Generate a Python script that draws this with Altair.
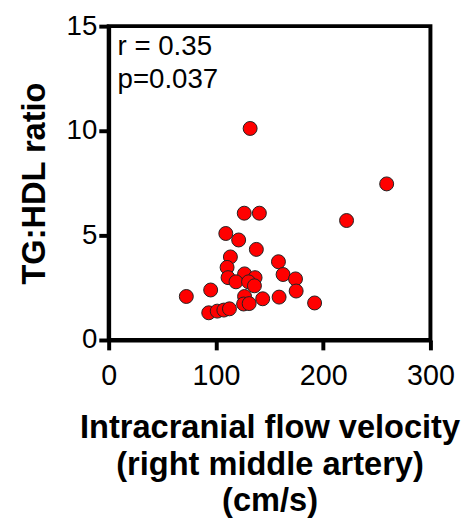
import altair as alt
import pandas as pd

velocity = [131.9, 259.2, 221.8, 126.4, 140.5, 109.2, 121.2, 137.7, 113.5, 158.3,
            110.4, 111.3, 126.7, 136.5, 162.6, 174.2, 118.7, 130.4, 135.9, 174.8,
            72.4, 95.1, 126.7, 143.6, 158.9, 192.0, 125.8, 131.0, 93.3, 101.2,
            107.4, 112.6]
ratio = [10.11, 7.46, 5.71, 6.06, 6.06, 5.09, 4.78, 4.33, 3.97, 3.74,
         3.47, 2.98, 3.16, 2.98, 3.13, 2.92, 2.78, 2.78, 2.59, 2.34,
         2.08, 2.39, 2.08, 1.97, 2.05, 1.77, 1.72, 1.74, 1.30, 1.38,
         1.43, 1.49]
x_ticks = [0, 100, 200, 300]
y_ticks = [0, 5, 10, 15]
notes = ["r = 0.35", "p=0.037"]
note_x = [8.3, 8.3]
note_y = [13.6, 12.05]

df = pd.DataFrame({"v": velocity, "r": ratio})
ndf = pd.DataFrame({"t": notes, "x": note_x, "y": note_y})

FONT = "Liberation Sans"

xs = alt.Scale(domain=[0, 300], nice=False, zero=False)
ys = alt.Scale(domain=[0, 15], nice=False, zero=False)

points = alt.Chart(df).mark_point(
    shape="circle", filled=True, size=200, color="#FF0000",
    stroke="#222222", strokeWidth=1, opacity=1
).encode(
    x=alt.X("v:Q", scale=xs, axis=alt.Axis(
        values=x_ticks,
        title=["Intracranial flow velocity", "(right middle artery)", "(cm/s)"],
        titleFontSize=33, titleFontWeight="bold", titleFont=FONT, titleColor="black",
        titleLineHeight=37, titlePadding=22,
        labelFontSize=29, labelFont=FONT, labelColor="black", labelPadding=12,
        tickSize=10, tickWidth=4, tickColor="black",
        domainWidth=4, domainColor="black", grid=False, labelFlush=False)),
    y=alt.Y("r:Q", scale=ys, axis=alt.Axis(
        values=y_ticks, title="TG:HDL ratio",
        titleFontSize=33, titleFontWeight="bold", titleFont=FONT, titleColor="black",
        titlePadding=15,
        labelFontSize=28, labelFont=FONT, labelColor="black", labelPadding=2,
        tickSize=10, tickWidth=4, tickColor="black",
        domainWidth=4, domainColor="black", grid=False, labelFlush=False)),
)

text = alt.Chart(ndf).mark_text(
    align="left", baseline="alphabetic", fontSize=28, font=FONT, color="black"
).encode(
    x=alt.X("x:Q", scale=xs),
    y=alt.Y("y:Q", scale=ys),
    text="t:N",
)

chart = alt.layer(points, text).properties(
    width=326, height=318,
    autosize=alt.AutoSizeParams(type="none"),
    padding={"left": 102, "top": 15, "right": 33, "bottom": 179},
).configure_view(stroke="black", strokeWidth=4)

chart.save("out.html", embed_options={"renderer": "svg", "actions": False})
